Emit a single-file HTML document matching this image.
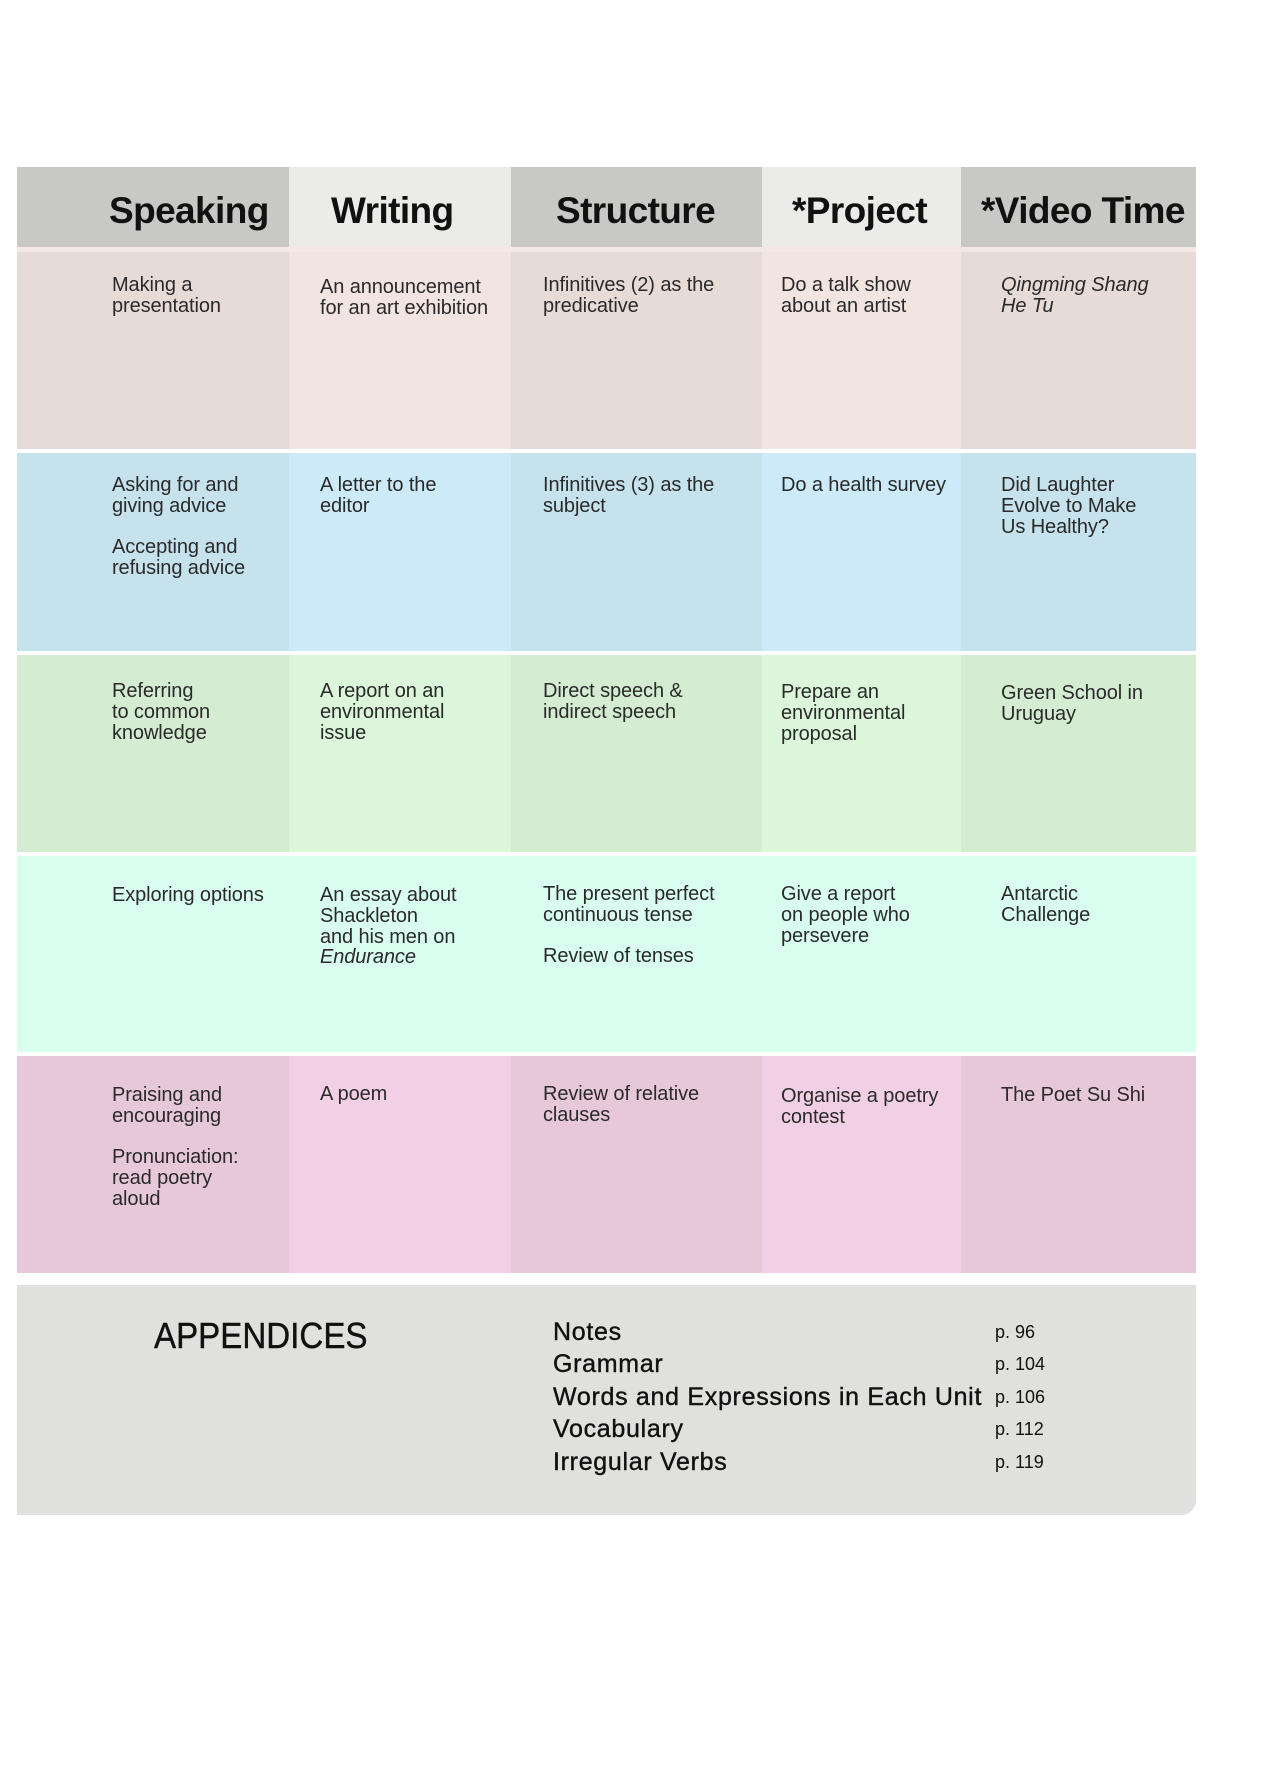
<!DOCTYPE html>
<html>
<head>
<meta charset="utf-8">
<style>
  html, body { margin:0; padding:0; background:#ffffff; }
  body { width:1276px; height:1789px; position:relative; overflow:hidden;
         font-family:"Liberation Sans", Arial, sans-serif; }
  .bg { position:absolute; }
  .hd { position:absolute; top:192px; font-weight:bold; font-size:37px; line-height:37px;
        letter-spacing:-0.6px; color:#111; white-space:nowrap; }
  .t { position:absolute; font-size:20px; line-height:20.8px; color:#2a2a2a; white-space:nowrap;
       letter-spacing:-0.1px; }
  .t i { font-style:italic; }
  .ap { position:absolute; left:154px; top:1318px; font-size:36px; line-height:36px; color:#111;
        transform:scaleX(0.92); transform-origin:0 0; -webkit-text-stroke:0.4px #111; white-space:nowrap; }
  .list { position:absolute; left:553px; top:1316px; font-size:25px; line-height:32.4px; color:#111;
          letter-spacing:0.7px; -webkit-text-stroke:0.4px #111; white-space:nowrap; }
  .pg { position:absolute; left:995px; top:1316px; font-size:18px; line-height:32.4px; color:#111;
        white-space:nowrap; }
</style>
</head>
<body>

<!-- header row -->
<div class="bg" style="left:17px;top:167px;width:272px;height:80px;background:#c8c8c7;"></div>
<div class="bg" style="left:289px;top:167px;width:222px;height:80px;background:#ebebea;"></div>
<div class="bg" style="left:511px;top:167px;width:251px;height:80px;background:#c8c8c7;"></div>
<div class="bg" style="left:762px;top:167px;width:199px;height:80px;background:#ebebea;"></div>
<div class="bg" style="left:961px;top:167px;width:235px;height:80px;background:#c8c8c7;"></div>
<div class="bg" style="left:17px;top:247px;width:1179px;height:5px;background:#f4e8e4;"></div>

<!-- row 1 -->
<div class="bg" style="left:17px;top:252px;width:272px;height:197px;background:#e7dbd8;"></div>
<div class="bg" style="left:289px;top:252px;width:222px;height:197px;background:#f1e4e1;"></div>
<div class="bg" style="left:511px;top:252px;width:251px;height:197px;background:#e7dbd8;"></div>
<div class="bg" style="left:762px;top:252px;width:199px;height:197px;background:#f1e4e1;"></div>
<div class="bg" style="left:961px;top:252px;width:235px;height:197px;background:#e7dbd8;"></div>

<!-- row 2 -->
<div class="bg" style="left:17px;top:453px;width:272px;height:198px;background:#c5e2ed;"></div>
<div class="bg" style="left:289px;top:453px;width:222px;height:198px;background:#cceaf7;"></div>
<div class="bg" style="left:511px;top:453px;width:251px;height:198px;background:#c5e2ed;"></div>
<div class="bg" style="left:762px;top:453px;width:199px;height:198px;background:#cceaf7;"></div>
<div class="bg" style="left:961px;top:453px;width:235px;height:198px;background:#c5e2ed;"></div>

<!-- row 3 -->
<div class="bg" style="left:17px;top:655px;width:272px;height:197px;background:#d4edd2;"></div>
<div class="bg" style="left:289px;top:655px;width:222px;height:197px;background:#dbf6da;"></div>
<div class="bg" style="left:511px;top:655px;width:251px;height:197px;background:#d4edd2;"></div>
<div class="bg" style="left:762px;top:655px;width:199px;height:197px;background:#dbf6da;"></div>
<div class="bg" style="left:961px;top:655px;width:235px;height:197px;background:#d4edd2;"></div>

<!-- row 4 -->
<div class="bg" style="left:17px;top:856px;width:1179px;height:196px;background:#d9fef0;"></div>

<!-- row 5 -->
<div class="bg" style="left:17px;top:1056px;width:272px;height:217px;background:#e7c8d8;"></div>
<div class="bg" style="left:289px;top:1056px;width:222px;height:217px;background:#f1d0e5;"></div>
<div class="bg" style="left:511px;top:1056px;width:251px;height:217px;background:#e7c8d8;"></div>
<div class="bg" style="left:762px;top:1056px;width:199px;height:217px;background:#f1d0e5;"></div>
<div class="bg" style="left:961px;top:1056px;width:235px;height:217px;background:#e7c8d8;"></div>

<!-- appendix box -->
<div class="bg" style="left:17px;top:1285px;width:1179px;height:230px;background:#e0e0df;border-bottom-right-radius:15px;"></div>

<!-- headers -->
<div class="hd" style="left:109px;">Speaking</div>
<div class="hd" style="left:331px;">Writing</div>
<div class="hd" style="left:556px;">Structure</div>
<div class="hd" style="left:792px;">*Project</div>
<div class="hd" style="left:981px;">*Video Time</div>

<!-- row 1 text -->
<div class="t" style="left:112px;top:275px;">Making a<br>presentation</div>
<div class="t" style="left:320px;top:277px;">An announcement<br>for an art exhibition</div>
<div class="t" style="left:543px;top:275px;">Infinitives (2) as the<br>predicative</div>
<div class="t" style="left:781px;top:275px;">Do a talk show<br>about an artist</div>
<div class="t" style="left:1001px;top:275px;"><i>Qingming Shang<br>He Tu</i></div>

<!-- row 2 text -->
<div class="t" style="left:112px;top:475px;">Asking for and<br>giving advice<br><br>Accepting and<br>refusing advice</div>
<div class="t" style="left:320px;top:475px;">A letter to the<br>editor</div>
<div class="t" style="left:543px;top:475px;">Infinitives (3) as the<br>subject</div>
<div class="t" style="left:781px;top:475px;">Do a health survey</div>
<div class="t" style="left:1001px;top:475px;">Did Laughter<br>Evolve to Make<br>Us Healthy?</div>

<!-- row 3 text -->
<div class="t" style="left:112px;top:681px;">Referring<br>to common<br>knowledge</div>
<div class="t" style="left:320px;top:681px;">A report on an<br>environmental<br>issue</div>
<div class="t" style="left:543px;top:681px;">Direct speech &amp;<br>indirect speech</div>
<div class="t" style="left:781px;top:682px;">Prepare an<br>environmental<br>proposal</div>
<div class="t" style="left:1001px;top:683px;">Green School in<br>Uruguay</div>

<!-- row 4 text -->
<div class="t" style="left:112px;top:885px;">Exploring options</div>
<div class="t" style="left:320px;top:885px;">An essay about<br>Shackleton<br>and his men on<br><i>Endurance</i></div>
<div class="t" style="left:543px;top:884px;">The present perfect<br>continuous tense<br><br>Review of tenses</div>
<div class="t" style="left:781px;top:884px;">Give a report<br>on people who<br>persevere</div>
<div class="t" style="left:1001px;top:884px;">Antarctic<br>Challenge</div>

<!-- row 5 text -->
<div class="t" style="left:112px;top:1085px;">Praising and<br>encouraging<br><br>Pronunciation:<br>read poetry<br>aloud</div>
<div class="t" style="left:320px;top:1084px;">A poem</div>
<div class="t" style="left:543px;top:1084px;">Review of relative<br>clauses</div>
<div class="t" style="left:781px;top:1086px;">Organise a poetry<br>contest</div>
<div class="t" style="left:1001px;top:1085px;">The Poet Su Shi</div>

<!-- appendices -->
<div class="ap">APPENDICES</div>
<div class="list">Notes<br>Grammar<br>Words and Expressions in Each Unit<br>Vocabulary<br>Irregular Verbs</div>
<div class="pg">p. 96<br>p. 104<br>p. 106<br>p. 112<br>p. 119</div>

</body>
</html>
